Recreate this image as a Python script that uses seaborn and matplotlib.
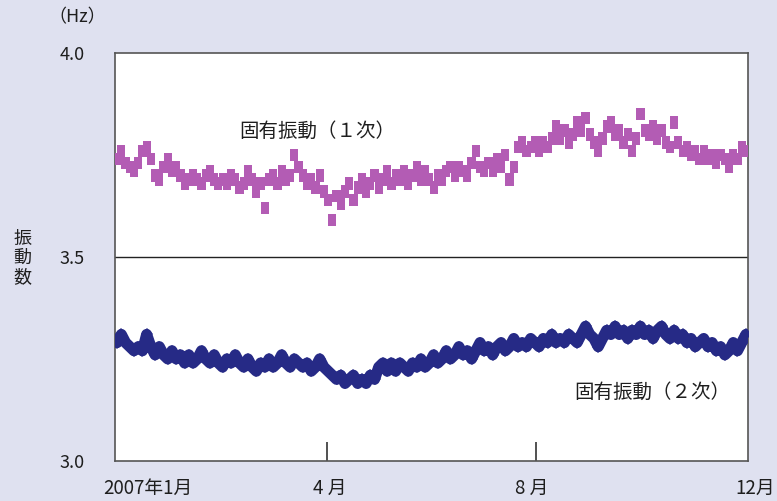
import matplotlib
matplotlib.use("Agg")
import matplotlib.pyplot as plt
import matplotlib.transforms as mtransforms
import numpy as np
import pandas as pd
import seaborn as sns

# Natural frequency of the structure through 2007 (Hz), sampled on an even grid
mode1_hz = [
    3.74, 3.76, 3.73, 3.72, 3.71, 3.73, 3.76, 3.77, 3.74, 3.70,
    3.69, 3.72, 3.74, 3.71, 3.72, 3.70, 3.68, 3.69, 3.70, 3.69,
    3.68, 3.70, 3.71, 3.69, 3.68, 3.69, 3.68, 3.70, 3.69, 3.67,
    3.68, 3.71, 3.69, 3.66, 3.68, 3.62, 3.69, 3.70, 3.68, 3.71,
    3.69, 3.70, 3.75, 3.72, 3.70, 3.68, 3.69, 3.67, 3.70, 3.66,
    3.64, 3.59, 3.65, 3.63, 3.66, 3.68, 3.64, 3.67, 3.69, 3.66,
    3.68, 3.70, 3.67, 3.69, 3.71, 3.68, 3.70, 3.69, 3.71, 3.68,
    3.70, 3.72, 3.69, 3.71, 3.69, 3.67, 3.70, 3.69, 3.71, 3.72,
    3.70, 3.72, 3.71, 3.70, 3.73, 3.76, 3.72, 3.71, 3.73, 3.71,
    3.74, 3.72, 3.75, 3.69, 3.72, 3.77, 3.78, 3.76, 3.77, 3.78,
    3.76, 3.78, 3.77, 3.79, 3.82, 3.79, 3.81, 3.78, 3.80, 3.83,
    3.81, 3.84, 3.80, 3.78, 3.76, 3.79, 3.82, 3.83, 3.80, 3.81,
    3.78, 3.80, 3.76, 3.79, 3.85, 3.81, 3.80, 3.82, 3.79, 3.81,
    3.78, 3.77, 3.83, 3.78, 3.76, 3.77, 3.75, 3.76, 3.74, 3.76,
    3.74, 3.75, 3.73, 3.75, 3.74, 3.72, 3.75, 3.74, 3.77, 3.76,
]

mode2_hz = [
    3.29, 3.31, 3.29, 3.28, 3.27, 3.28, 3.27, 3.31, 3.28, 3.26,
    3.28, 3.26, 3.25, 3.27, 3.25, 3.26, 3.24, 3.26, 3.24, 3.25,
    3.27, 3.25, 3.24, 3.26, 3.24, 3.23, 3.25, 3.24, 3.26, 3.24,
    3.23, 3.25, 3.23, 3.22, 3.24, 3.23, 3.25, 3.23, 3.24, 3.26,
    3.24, 3.23, 3.25, 3.24, 3.23, 3.24, 3.22, 3.23, 3.25, 3.23,
    3.22, 3.21, 3.20, 3.21, 3.19, 3.20, 3.21, 3.19, 3.20, 3.19,
    3.21, 3.20, 3.23, 3.24, 3.22, 3.24, 3.22, 3.24, 3.23, 3.22,
    3.24, 3.23, 3.25, 3.23, 3.24, 3.26, 3.24, 3.25, 3.27, 3.25,
    3.26, 3.28, 3.26, 3.27, 3.25, 3.27, 3.29, 3.27, 3.28, 3.26,
    3.28, 3.29, 3.27, 3.28, 3.30, 3.28, 3.29, 3.28, 3.30, 3.29,
    3.28, 3.30, 3.29, 3.31, 3.29, 3.30, 3.29, 3.31, 3.30, 3.29,
    3.31, 3.33, 3.31, 3.30, 3.28, 3.30, 3.32, 3.31, 3.33, 3.31,
    3.32, 3.30, 3.32, 3.31, 3.33, 3.31, 3.32, 3.30, 3.32, 3.33,
    3.31, 3.30, 3.32, 3.30, 3.31, 3.29, 3.30, 3.28, 3.29, 3.30,
    3.28, 3.29, 3.27, 3.28, 3.26, 3.27, 3.29, 3.27, 3.29, 3.31,
]

month_labels = ["2007年1月", "4 月", "8 月", "12月"]
y_ticks = [3.0, 3.5, 4.0]
series_names = ["固有振動（１次）", "固有振動（２次）"]

BG = "#dfe1f0"
PURPLE = "#b35cb4"
NAVY = "#262a86"
TEXT = "#1e1e1e"

sns.set_theme(style="white")
plt.rcParams["font.family"] = ["Noto Sans CJK JP", "DejaVu Sans"]

n = len(mode1_hz)
df = pd.DataFrame({
    "t": np.arange(n),
    "mode1": mode1_hz,
    "mode2": mode2_hz,
})

fig = plt.figure(figsize=(7.77, 5.01), dpi=100, facecolor=BG)
ax = fig.add_axes([0.148, 0.080, 0.8147, 0.8143])
ax.set_facecolor("white")

ax.axhline(3.5, color="#222222", lw=1.0, zorder=1)

# tall rectangular marker for the first mode readings
rect = [(-0.33, -0.5), (0.33, -0.5), (0.33, 0.5), (-0.33, 0.5), (-0.33, -0.5)]

sns.lineplot(data=df, x="t", y="mode2", ax=ax, color=NAVY, lw=8,
             marker="D", markersize=6, markeredgewidth=0, zorder=3)
sns.scatterplot(data=df, x="t", y="mode1", ax=ax, color=PURPLE,
                marker=rect, s=80, edgecolor="none", linewidth=0, zorder=3)

ax.set_xlim(-0.5, n - 0.5)
ax.set_ylim(3.0, 4.0)
ax.set_xlabel("")
ax.set_ylabel("")

for sp in ax.spines.values():
    sp.set_color("#555555")
    sp.set_linewidth(1.2)

# y ticks: labels only
ax.set_yticks(y_ticks)
ax.set_yticklabels([f"{v:.1f}" for v in y_ticks])
ax.tick_params(axis="y", left=False, length=0, pad=22, labelsize=13,
               labelcolor=TEXT)

# x ticks at thirds of the span, marks pointing inward
span = n - 1
xt = [0, span / 3, 2 * span / 3, span]
ax.set_xticks(xt)
ax.set_xticklabels(month_labels)
ax.tick_params(axis="x", bottom=True, direction="in", length=14, width=1.2,
               color="#333333", pad=12, labelsize=13.5, labelcolor=TEXT)
xlabels = ax.get_xticklabels()
offsets = [31, 3, -5, 9]
for lab, dx in zip(xlabels, offsets):
    lab.set_transform(lab.get_transform() +
                      mtransforms.ScaledTranslation(dx / 100, 0, fig.dpi_scale_trans))
# end tick marks sit on the spines
xticks = ax.xaxis.get_major_ticks()
xticks[0].tick1line.set_visible(False)
xticks[-1].tick1line.set_visible(False)

# series labels
ax.text(0.197, 0.807, series_names[0], transform=ax.transAxes, fontsize=14,
        color=TEXT, ha="left", va="center")
ax.text(0.725, 0.168, series_names[1], transform=ax.transAxes, fontsize=14,
        color=TEXT, ha="left", va="center")

# unit and axis title
fig.text(77 / 777, 1 - 17 / 501, "（Hz）", fontsize=13, color=TEXT,
         ha="center", va="center")
fig.text(22 / 777, 1 - 258 / 501, "振\n動\n数", fontsize=13, color=TEXT,
         ha="center", va="center", linespacing=1.1)

fig.savefig("out.png", dpi=100, facecolor=BG)
